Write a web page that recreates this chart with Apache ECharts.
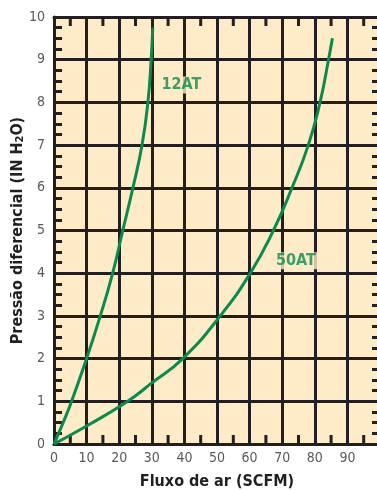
<!DOCTYPE html>
<html>
<head>
<meta charset="utf-8">
<script src="https://cdn.jsdelivr.net/npm/echarts@6/dist/echarts.min.js"></script>
<style>
  html, body { margin: 0; padding: 0; background: #ffffff; }
  #chart { width: 377px; height: 490px; }
</style>
</head>
<body>
<div id="chart"></div>
<script>
// Air flow (SCFM) vs differential pressure (in H2O) for two filter models
const flow12AT = [0, 2.8, 5.4, 10.0, 14.2, 18.0, 21.1, 24.2, 27.0, 28.8, 29.8, 30.3];
const pres12AT = [0, 0.5, 1, 2, 3, 4, 5, 6, 7, 8, 9, 9.75];

const flow50AT = [0, 10, 22.6, 30, 39.5, 51.0, 60.2, 67.3, 73.0, 78.0, 81.6, 84.2, 85.4];
const pres50AT = [0, 0.42, 1, 1.43, 2, 3, 4, 5, 6, 7, 8, 9, 9.5];

const curveNames = ['12AT', '50AT'];
const labelFlow = [39.1, 74.2];
const labelPres = [8.41, 4.29];

const xTicks = [0, 10, 20, 30, 40, 50, 60, 70, 80, 90];
const xHalfTicks = [5, 15, 25, 35, 45, 55, 65, 75, 85, 95];
const yTicks = [0, 1, 2, 3, 4, 5, 6, 7, 8, 9, 10];

const INK = '#231f20';
const GREEN = '#0b8a4c';
const PAPER = '#feebc8';
const NARROW = "'Liberation Sans Narrow', 'DejaVu Sans Condensed', sans-serif";

const pairs = (xs, ys) => xs.map((x, i) => [x, ys[i]]);

const heavy = { color: INK, width: 3 };
const plotRect = { left: 54, right: -3, top: 17, bottom: 46, containLabel: false, outerBoundsMode: 'none' };
const TICK_LEN = 9;

// Flow axis: frame line and grid lines every 10
function flowAxis(extra) {
  return Object.assign({
    type: 'value', gridIndex: 0, min: 0, max: 100, interval: 10,
    axisLine: { show: true, onZero: false, lineStyle: heavy },
    axisTick: { show: false },
    splitLine: { show: true, lineStyle: heavy }
  }, extra);
}

// Pressure tick-only axis (grid 1): short inward quarter ticks
function tickAxis(extra, len) {
  return Object.assign({
    type: 'value', gridIndex: 1,
    axisLine: { show: false, onZero: false },
    axisTick: { show: true, inside: true, length: len, lineStyle: heavy },
    axisLabel: { show: false },
    splitLine: { show: false }
  }, extra);
}

// Half-step flow ticks: thin bars sitting on the bottom and top frame
function flowTickSeries(pres, dir) {
  return {
    type: 'scatter', xAxisIndex: 0, yAxisIndex: 0, z: 2, silent: true, clip: false,
    symbol: 'rect', symbolSize: [3, TICK_LEN],
    symbolOffset: [0, dir * TICK_LEN / 2],
    itemStyle: { color: INK, opacity: 1 },
    data: xHalfTicks.map(v => [v, pres])
  };
}

const chart = echarts.init(document.getElementById('chart'), null, { renderer: 'canvas' });

chart.setOption({
  animation: false,
  backgroundColor: '#ffffff',
  grid: [
    Object.assign({ show: true, backgroundColor: PAPER, borderWidth: 0 }, plotRect),
    Object.assign({ show: false }, plotRect)
  ],
  xAxis: [
    flowAxis({
      position: 'bottom',
      axisLabel: {
        color: '#58595b', fontSize: 14, fontFamily: NARROW, margin: 7,
        formatter: v => (xTicks.indexOf(v) >= 0 ? String(v) : '')
      },
      name: 'Fluxo de ar (SCFM)',
      nameLocation: 'middle', nameGap: 30, nameMoveOverlap: false,
      nameTextStyle: { color: INK, fontSize: 16, fontWeight: 'bold', fontFamily: NARROW }
    }),
    flowAxis({
      position: 'top',
      axisLabel: { show: false }, splitLine: { show: false }
    }),
    tickAxis({ position: 'bottom', min: 0, max: 100, interval: 10, axisTick: { show: false } }, 0)
  ],
  yAxis: [
    {
      type: 'value', gridIndex: 0, position: 'left', min: 0, max: 10, interval: 1,
      axisLine: { show: true, onZero: false, lineStyle: heavy },
      axisTick: { show: false },
      splitLine: { show: true, lineStyle: heavy },
      axisLabel: {
        color: '#58595b', fontSize: 14, fontFamily: NARROW, margin: 9,
        formatter: v => (yTicks.indexOf(v) >= 0 ? String(v) : '')
      },
      name: '{t|Pressão diferencial (IN H}{s|2}{t|O)}',
      nameLocation: 'middle', nameGap: 28, nameMoveOverlap: false,
      nameTextStyle: {
        rich: {
          t: { color: INK, fontSize: 16, fontWeight: 'bold', fontFamily: NARROW },
          s: { color: INK, fontSize: 11, fontWeight: 'bold', fontFamily: NARROW, verticalAlign: 'bottom', padding: [6, 0, 0, 0] }
        }
      }
    },
    tickAxis({ position: 'left', min: 0, max: 10, interval: 0.25 }, 8),
    tickAxis({ position: 'right', min: 0, max: 10, interval: 0.25 }, 8)
  ],
  series: [
    flowTickSeries(0, -1),
    flowTickSeries(10, 1),
    {
      name: curveNames[0], type: 'line', smooth: 0.5, showSymbol: false,
      xAxisIndex: 0, yAxisIndex: 0,
      data: pairs(flow12AT, pres12AT),
      lineStyle: { color: GREEN, width: 3 }, z: 3
    },
    {
      name: curveNames[1], type: 'line', smooth: 0.5, showSymbol: false,
      xAxisIndex: 0, yAxisIndex: 0,
      data: pairs(flow50AT, pres50AT),
      lineStyle: { color: GREEN, width: 3 }, z: 3
    },
    {
      type: 'scatter', symbolSize: 0, z: 4,
      xAxisIndex: 0, yAxisIndex: 0,
      data: curveNames.map((n, i) => [labelFlow[i], labelPres[i], n]),
      label: {
        show: true, position: 'inside',
        formatter: p => p.value[2],
        color: GREEN, fontSize: 16, fontWeight: 'bold', fontFamily: NARROW,
        backgroundColor: PAPER, padding: [1, 2, 0, 2]
      }
    }
  ]
});
</script>
</body>
</html>
